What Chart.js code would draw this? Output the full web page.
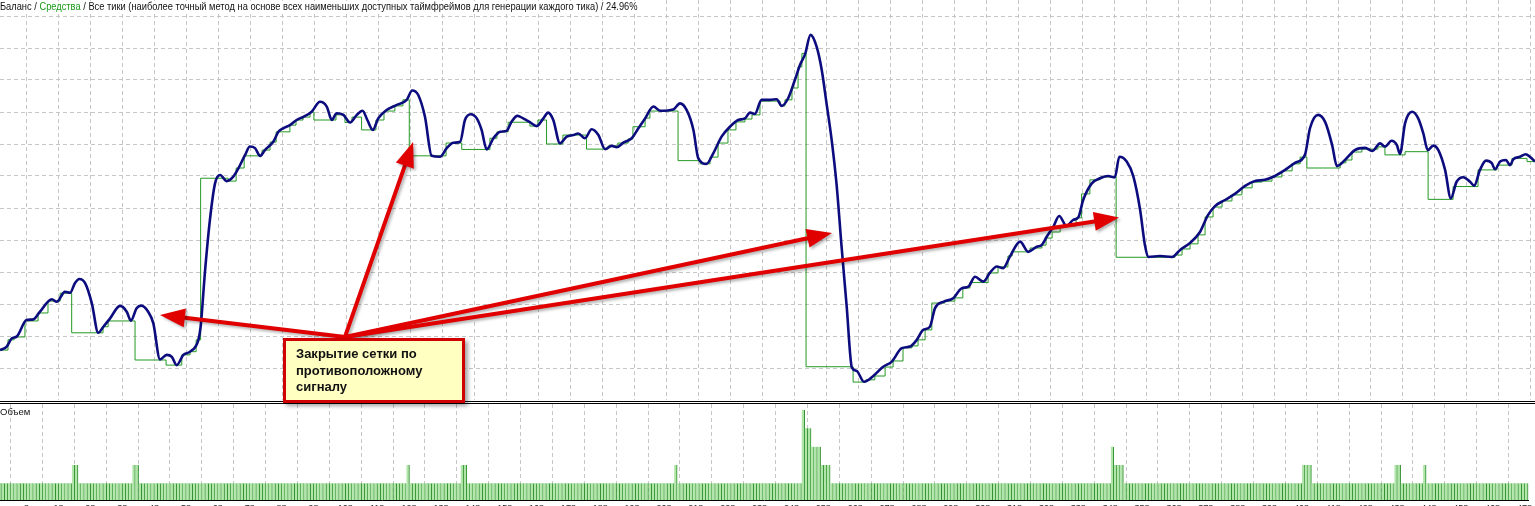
<!DOCTYPE html>
<html><head><meta charset="utf-8">
<script src="https://cdn.jsdelivr.net/npm/chart.js@4"></script>
<style>
html,body{margin:0;padding:0;background:#fff;overflow:hidden;width:1535px;height:506px;}
#main{position:absolute;left:0;top:0;}
#vol{position:absolute;left:0;top:404px;}
.hl{position:absolute;left:0;width:1535px;height:1px;background:#000;}
#title{position:absolute;left:0;top:1px;font:10.4px "Liberation Sans",Arial,sans-serif;color:#111;white-space:nowrap;background:#fff;transform:scaleX(0.895);transform-origin:0 0;}
#title .g{color:#1a9a1a;}
#vlabel{position:absolute;left:0;top:406px;font:9.5px "Liberation Sans",Arial,sans-serif;color:#111;}
#note{position:absolute;left:283px;top:338px;width:166px;height:54px;padding:5px 0 0 10px;border:3px solid #d00000;background:#ffffc2;box-shadow:3px 3px 4px rgba(0,0,0,.35);font:bold 13px "Liberation Sans",Arial,sans-serif;line-height:16.6px;color:#111;z-index:5;}
</style></head>
<body>
<canvas id="main" width="1535" height="400"></canvas>
<div class="hl" style="top:401px"></div>
<div class="hl" style="top:403px"></div>
<canvas id="vol" width="1535" height="116"></canvas>
<div id="title">Баланс / <span class="g">Средства</span> / Все тики (наиболее точный метод на основе всех наименьших доступных таймфреймов для генерации каждого тика) / 24.96%</div>
<div id="vlabel">Объем</div>
<div id="note">Закрытие сетки по<br>противоположному<br>сигналу</div>
<script>
// ---- data (trade number on x, account value on y) ----
const equityX = [0,2.1,3.7,5.2,8.3,10.4,12.5,16.2,17.7,20.3,21.9,23.4,24.8,26.6,28.7,30.7,32.3,34.4,37.5,39.6,40.9,42.7,44.1,46.3,47.9,50,52.1,53.7,55.2,57.3,59.4,62,62.7,64.1,65.6,67.2,68.8,70.8,72.9,74.5,76.6,78.1,79.7,81.3,82.8,85.4,87,88.5,90.6,92.7,94.8,97.4,100,102.1,103.7,105.2,107.3,109.4,111.5,113.3,114.8,116.5,118.2,120.8,124,127.1,128.8,130.7,132.8,134.9,137.5,139.6,141.7,143.8,145.3,147.1,149,150.5,152.1,154.2,156.3,158.3,159.9,161.7,163.5,165.6,167.7,169.8,171.3,172.9,175,177.1,179.2,180.7,182.8,184.9,187,189.1,191.2,192.7,194.8,197.4,199.5,201.6,204.2,206.3,210.4,212.5,214.6,216.7,218.2,220.8,222.9,225.5,228.1,230.7,232.8,234.4,235.9,238,240.6,242.7,244.3,246.3,248.4,250,251.6,253.3,255.2,256.8,258.3,259.9,261.5,263,264.6,266.2,267.7,270,272.9,276,278.7,281.8,284.4,286.5,288.5,290.6,292.2,294.8,297.9,300.5,302.6,304.7,307.3,309.4,311.5,313.5,315.6,318.8,321.3,324,325.5,327.1,329.2,331,333.3,335.4,337,338.5,341.2,343.8,346.3,348.4,349.8,352.1,354.2,356.3,357.8,358.8,362.5,366.3,368.8,371.9,375,377.5,379.7,382.8,385.9,389.1,392.2,395.3,398.4,401.6,404.7,407.8,409.4,411.9,414.1,416.3,417.8,420.3,423.4,426.6,428.8,431.3,432.8,434.9,436.5,437.5,439.1,441.3,443.2,444.8,446.2,447.9,449.5,451.6,453.4,455.2,457.3,459.4,460.7,462.5,464.4,466.2,467.2,468.8,470.6,471.9,472.9,475,476.8,478.1,479.7];
const equityY = [10156,10167,10193,10198,10250,10252,10276,10315,10307,10338,10335,10365,10378,10365,10302,10210,10229,10255,10294,10276,10248,10287,10295,10276,10240,10127,10141,10135,10109,10141,10151,10188,10229,10406,10563,10677,10703,10684,10698,10724,10766,10792,10787,10763,10781,10807,10838,10849,10859,10875,10885,10901,10932,10917,10875,10896,10891,10867,10891,10904,10875,10844,10880,10906,10922,10938,10967,10953,10885,10763,10760,10787,10804,10807,10875,10893,10880,10844,10783,10818,10838,10841,10870,10888,10880,10868,10856,10880,10898,10875,10802,10823,10828,10833,10818,10846,10828,10784,10794,10790,10804,10818,10849,10880,10917,10904,10908,10927,10906,10844,10756,10738,10771,10823,10854,10875,10880,10898,10894,10938,10938,10940,10919,10943,11000,11047,11081,11141,11104,11031,10927,10813,10667,10479,10292,10102,10091,10057,10075,10104,10120,10162,10167,10188,10219,10229,10287,10307,10318,10349,10354,10385,10370,10398,10417,10412,10448,10495,10463,10479,10484,10510,10542,10575,10544,10563,10571,10625,10677,10693,10700,10696,10760,10745,10698,10594,10484,10447,10450,10447,10469,10491,10525,10578,10606,10625,10644,10669,10684,10688,10700,10719,10741,10766,10850,10891,10869,10797,10731,10750,10781,10788,10778,10802,10792,10810,10797,10769,10865,10901,10880,10833,10781,10795,10781,10719,10630,10682,10696,10682,10670,10719,10748,10740,10721,10745,10750,10734,10752,10760,10768,10760,10745];
const balanceX = [0,2.5,4.4,7.8,11.9,15,18.8,22.4,32.2,33.8,42.2,51.9,56.8,59.4,61.3,62.7,71.3,73.8,76.3,81.9,84.4,86.3,90.6,92.5,94.7,96.9,98.1,105,107.8,110,113,117.5,120,123.4,125.9,127.9,139.4,144.3,153.1,155.3,158.8,165.6,168.1,170.8,175.9,183.3,190,193.1,196.3,197.8,201.6,203.1,211.9,218.8,221.9,224.4,227.5,230,232.8,235,237.5,243.8,245.3,247.5,249.4,250.6,251.9,266.6,270.6,273.4,276.6,279.1,282.2,285,286.9,289.1,291.2,295.3,298.4,300.9,303.1,308.8,311.9,315,316.3,321.9,325.6,326.9,328.8,331.3,336.3,338,340.6,343.8,348.8,367.2,369.4,371.9,374.4,376.6,379.1,381.9,385,388.1,391.3,394.4,397.5,400.6,403.8,406.3,408.4,418.8,420.6,422.5,425.6,430.6,432.8,439.1,446.3,454.1,461.9,467.8,472.5,477.2,479.7];
const balanceY = [10156,10188,10197,10247,10272,10309,10334,10210,10229,10247,10125,10109,10141,10151,10188,10693,10684,10725,10763,10781,10806,10838,10859,10875,10884,10900,10875,10891,10867,10884,10844,10875,10903,10919,10938,10763,10803,10783,10818,10838,10868,10856,10875,10800,10828,10784,10794,10803,10816,10854,10881,10903,10748,10738,10759,10803,10844,10869,10878,10891,10934,10919,10938,10975,11041,11083,10104,10056,10063,10075,10103,10122,10163,10169,10188,10219,10303,10309,10319,10350,10367,10397,10416,10450,10463,10475,10484,10506,10525,10544,10569,10644,10688,10697,10446,10453,10472,10488,10516,10572,10603,10622,10641,10663,10681,10684,10697,10716,10738,10759,10725,10741,10750,10775,10784,10791,10766,10776,10627,10667,10719,10734,10755,10745,10745];
// volume per trade (trade 0..479)
const volumes = [
1,1,1,1,1,1,1,1,1,1,1,1,1,1,1,1,1,1,1,1,1,1,1,2,2,1,1,1,1,1,1,1,1,1,1,1,1,1,1,1,
1,1,2,2,1,1,1,1,1,1,1,1,1,1,1,1,1,1,1,1,1,1,1,1,1,1,1,1,1,1,1,1,1,1,1,1,1,1,1,1,
1,1,1,1,1,1,1,1,1,1,1,1,1,1,1,1,1,1,1,1,1,1,1,1,1,1,1,1,1,1,1,1,1,1,1,1,1,1,1,1,
1,1,1,1,1,1,1,1,2,1,1,1,1,1,1,1,1,1,1,1,1,1,1,1,1,2,2,1,1,1,1,1,1,1,1,1,1,1,1,1,
1,1,1,1,1,1,1,1,1,1,1,1,1,1,1,1,1,1,1,1,1,1,1,1,1,1,1,1,1,1,1,1,1,1,1,1,1,1,1,1,
1,1,1,1,1,1,1,1,1,1,1,1,2,1,1,1,1,1,1,1,1,1,1,1,1,1,1,1,1,1,1,1,1,1,1,1,1,1,1,1,
1,1,1,1,1,1,1,1,1,1,1,1,5,4,4,3,3,3,2,2,2,1,1,1,1,1,1,1,1,1,1,1,1,1,1,1,1,1,1,1,
1,1,1,1,1,1,1,1,1,1,1,1,1,1,1,1,1,1,1,1,1,1,1,1,1,1,1,1,1,1,1,1,1,1,1,1,1,1,1,1,
1,1,1,1,1,1,1,1,1,1,1,1,1,1,1,1,1,1,1,1,1,1,1,1,1,1,1,1,1,3,2,2,2,1,1,1,1,1,1,1,
1,1,1,1,1,1,1,1,1,1,1,1,1,1,1,1,1,1,1,1,1,1,1,1,1,1,1,1,1,1,1,1,1,1,1,1,1,1,1,1,
1,1,1,1,1,1,1,1,1,2,2,2,1,1,1,1,1,1,1,1,1,1,1,1,1,1,1,1,1,1,1,1,1,1,1,1,1,1,2,2,
1,1,1,1,1,1,1,2,1,1,1,1,1,1,1,1,1,1,1,1,1,1,1,1,1,1,1,1,1,1,1,1,1,1,1,1,1,1,1,1];
const xTickLabels = ['8','18','28','38','48','58','68','78','88','98','108','118','128','138','148','158','168','178','188','198','208','218','228','238','248','258','268','278','288','298','308','318','328','338','348','358','368','378','388','398','408','418','428','438','448','458','468','478'];
// annotation: arrow origin and targets (in chart units)
const noteOrigin = {x:107.8, y:10197};
const noteTargets = [{x:50,y:10266},{x:129.1,y:10806},{x:260,y:10522},{x:349.7,y:10570}];

// ---- layout constants ----
const X_MIN = 0, X_MAX = 479.7, GRID_X0 = 8.34, GRID_XSTEP = 10;
const gridTicksX = (scale)=>{const t=[];for(let v=GRID_X0; v<=X_MAX; v+=GRID_XSTEP) t.push({value:v}); scale.ticks=t;};
const GRID = '#c6c6c6', DASH = [4,3];

const arrowPlugin = {
  id:'arrows',
  afterDatasetsDraw(chart){
    const {ctx, scales:{x,y}} = chart;
    const ox = x.getPixelForValue(noteOrigin.x), oy = y.getPixelForValue(noteOrigin.y);
    ctx.save();
    ctx.shadowColor='rgba(0,0,0,0.3)'; ctx.shadowBlur=3; ctx.shadowOffsetX=2; ctx.shadowOffsetY=2;
    ctx.strokeStyle='#e00000'; ctx.fillStyle='#e00000'; ctx.lineWidth=4; ctx.lineCap='round';
    noteTargets.forEach(t=>{
      const tx=x.getPixelForValue(t.x), ty=y.getPixelForValue(t.y);
      const a=Math.atan2(ty-oy, tx-ox), L=25, W=9.5;
      const bx=tx-L*Math.cos(a), by=ty-L*Math.sin(a);
      ctx.beginPath(); ctx.moveTo(ox,oy); ctx.lineTo(bx,by); ctx.stroke();
      ctx.beginPath(); ctx.moveTo(tx,ty);
      ctx.lineTo(bx+W*Math.sin(a), by-W*Math.cos(a));
      ctx.lineTo(bx-W*Math.sin(a), by+W*Math.cos(a));
      ctx.closePath(); ctx.fill();
    });
    ctx.restore();
  }
};

const common = {responsive:false, animation:false, devicePixelRatio:1, events:[],
  layout:{padding:0}, plugins:{legend:{display:false}, tooltip:{enabled:false}}};

new Chart(document.getElementById('main'), {
  type:'line',
  data:{datasets:[
    {label:'Средства', data:equityX.map((v,i)=>({x:v,y:equityY[i]})), borderColor:'#0c0c7e', borderWidth:2.6, pointRadius:0, cubicInterpolationMode:'monotone', order:0},
    {label:'Баланс', data:balanceX.map((v,i)=>({x:v,y:balanceY[i]})), borderColor:'#239a23', borderWidth:1, pointRadius:0, stepped:'before', order:1}
  ]},
  options:{...common,
    scales:{
      x:{type:'linear', min:X_MIN, max:X_MAX, afterBuildTicks:gridTicksX, afterFit(s){s.height=0;},
         ticks:{display:false}, grid:{color:GRID, drawTicks:false, tickLength:0}, border:{display:false, dash:DASH}},
      y:{type:'linear', min:10000, max:11250, afterBuildTicks(s){const t=[];for(let v=10100; v<=11200; v+=100) t.push({value:v}); s.ticks=t;}, afterFit(s){s.width=0;},
         ticks:{display:false}, grid:{color:GRID, drawTicks:false, tickLength:0}, border:{display:false, dash:DASH}}
    }
  },
  plugins:[arrowPlugin]
});

new Chart(document.getElementById('vol'), {
  type:'bar',
  data:{datasets:[{label:'Объем', data:volumes.map((v,i)=>({x:i,y:v})), backgroundColor:'#b0e6a8', borderColor:'#2a8a2a', borderWidth:{left:0,right:1,top:0,bottom:0}, borderSkipped:false, barThickness:3}]},
  options:{...common,
    scales:{
      x:{type:'linear', min:X_MIN, max:X_MAX, offset:false, afterBuildTicks:gridTicksX, afterFit(s){s.height=20;},
         ticks:{autoSkip:false, maxRotation:0, padding:3, font:{size:9, family:'Liberation Sans'}, color:'#222', callback:(v,i)=>xTickLabels[i]},
         grid:{color:GRID, drawTicks:false, tickLength:0}, border:{display:true, color:'#000', dash:DASH}},
      y:{min:0.09, max:5.33, afterFit(s){s.width=0;}, ticks:{display:false}, grid:{display:false}, border:{display:false}}
    }
  }
});
</script>
</body></html>
